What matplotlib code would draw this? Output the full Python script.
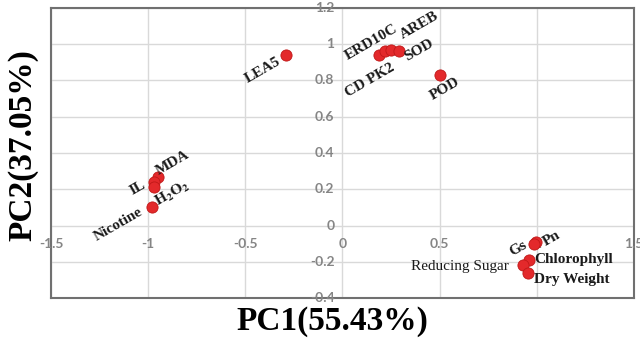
import numpy as np
import matplotlib
matplotlib.use('Agg')
import matplotlib.pyplot as plt

# loadings
names = ['LEA5', 'CD PK2', 'ERD10C', 'AREB', 'SOD', 'POD',
         'MDA', 'IL', 'H2O2', 'Nicotine',
         'Pn', 'Gs', 'Chlorophyll', 'Reducing Sugar', 'Dry Weight']
pc1 = [-0.29, 0.19, 0.22, 0.25, 0.29, 0.50,
       -0.95, -0.97, -0.97, -0.98,
       0.995, 0.985, 0.96, 0.93, 0.955]
pc2 = [0.94, 0.94, 0.96, 0.97, 0.96, 0.83,
       0.265, 0.24, 0.21, 0.10,
       -0.09, -0.10, -0.19, -0.22, -0.26]

xticks = [-1.5, -1, -0.5, 0, 0.5, 1, 1.5]
yticks = [-0.4, -0.2, 0, 0.2, 0.4, 0.6, 0.8, 1, 1.2]
xlabels = ['-1.5', '-1', '-0.5', '0', '0.5', '1', '1.5']
ylabels = ['-0.4', '-0.2', '0', '0.2', '0.4', '0.6', '0.8', '1', '1.2']

# label placement: offset (pixels), rotation, alignment, weight
style = {
    'LEA5': (-23, -15, 30, 'center', 'bold'),
    'CD PK2': (-10, -25, 30, 'center', 'bold'),
    'ERD10C': (-14, 9, 30, 'center', 'bold'),
    'AREB': (28, 24, 30, 'center', 'bold'),
    'SOD': (20, 1, 30, 'center', 'bold'),
    'POD': (5, -14, 30, 'center', 'bold'),
    'MDA': (15, 15, 30, 'center', 'bold'),
    'IL': (-16, -6, 30, 'center', 'bold'),
    'H2O2': (18, -6, 30, 'center', 'bold'),
    'Nicotine': (-34, -17, 30, 'center', 'bold'),
    'Pn': (16, 3, 30, 'center', 'bold'),
    'Gs': (-16, -5, 30, 'center', 'bold'),
    'Chlorophyll': (5, 0, 0, 'left', 'bold'),
    'Reducing Sugar': (-14, -1, 0, 'right', 'normal'),
    'Dry Weight': (6, -7, 0, 'left', 'bold'),
}

plt.rcParams['mathtext.fontset'] = 'stix'

fig = plt.figure(figsize=(6.4, 3.46), dpi=100)
ax = fig.add_axes([0.0797, 0.1387, 0.9109, 0.8382])
ax.set_xlim(-1.5, 1.5)
ax.set_ylim(-0.4, 1.2)

ax.set_xticks(xticks)
ax.set_yticks(yticks)
ax.tick_params(length=0, labelbottom=False, labelleft=False)
ax.grid(color='#d9d9d9', linewidth=1)
for s in ax.spines.values():
    s.set_color('#707070')
    s.set_linewidth(1.5)

# tick labels sit on the zero lines like in Excel
for v, t in zip(xticks, xlabels):
    ax.annotate(t, (v, 0), xytext=(0, -18), textcoords='offset pixels',
                ha='center', va='center', fontsize=10, fontweight='bold',
                color='#858585', family='Lato', annotation_clip=False)
for v, t in zip(yticks, ylabels):
    ax.annotate(t, (0, v), xytext=(-8, 0), textcoords='offset pixels',
                ha='right', va='center', fontsize=10, fontweight='bold',
                color='#858585', family='Lato', annotation_clip=False)

ax.scatter(pc1, pc2, s=65, color='#e3292b', edgecolor='#c01818',
           linewidth=0.6, zorder=3)

for n, x, y in zip(names, pc1, pc2):
    dx, dy, rot, ha, w = style[n]
    txt = r'$\mathbf{H_2O_2}$' if n == 'H2O2' else n
    ax.annotate(txt, (x, y), xytext=(dx, dy), textcoords='offset pixels',
                ha=ha, va='center', rotation=rot, rotation_mode='anchor',
                fontsize=11, fontweight=w, family='Liberation Serif',
                color='#1a1a1a', zorder=4)

fig.text(0.52, 0.07, 'PC1(55.43%)', ha='center', va='center',
         fontsize=24, fontweight='bold', family='Liberation Serif')
fig.text(0.036, 0.58, 'PC2(37.05%)', ha='center', va='center', rotation=90,
         fontsize=24, fontweight='bold', family='Liberation Serif')

fig.savefig('out.png', dpi=100)
